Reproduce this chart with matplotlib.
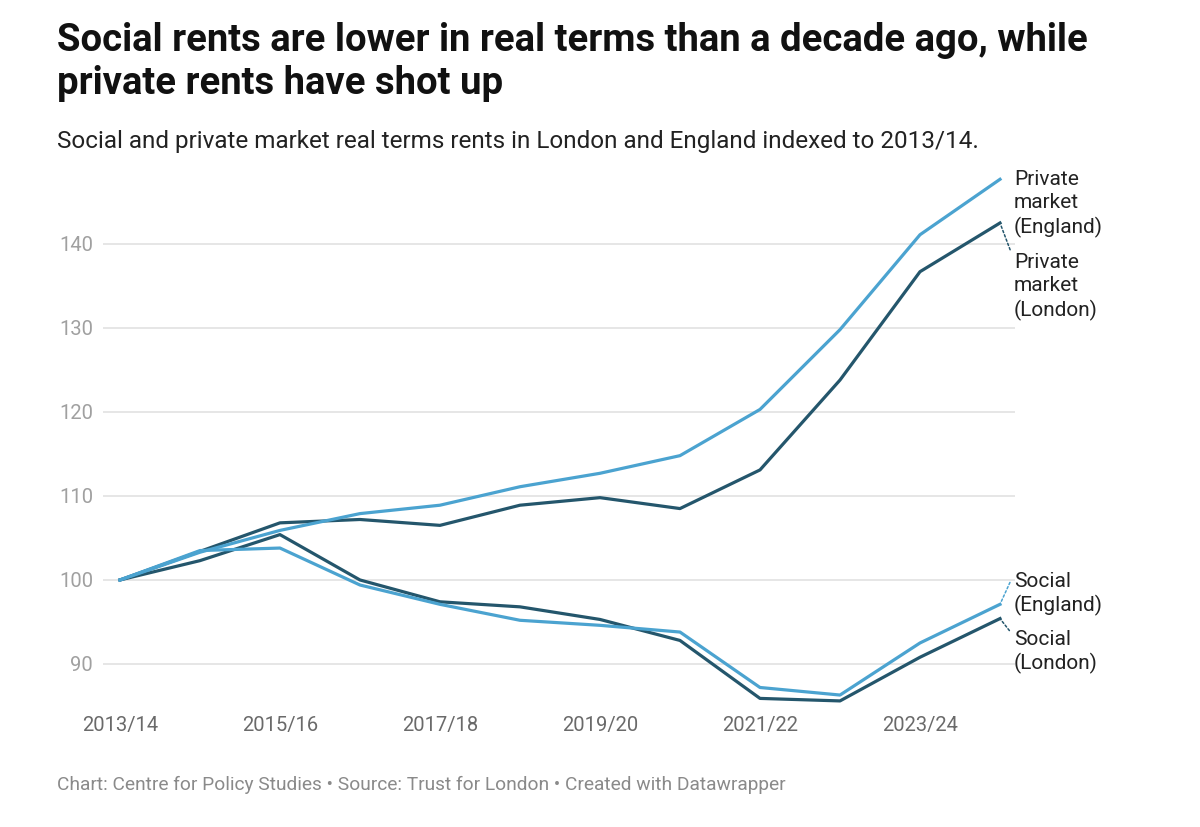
import matplotlib
matplotlib.use('Agg')
import matplotlib.pyplot as plt

years = ['2013/14', '2014/15', '2015/16', '2016/17', '2017/18', '2018/19',
         '2019/20', '2020/21', '2021/22', '2022/23', '2023/24', '2024/25']
private_england = [100, 103.3, 105.9, 107.9, 108.9, 111.1, 112.7, 114.8, 120.3, 129.8, 141.1, 147.7]
private_london = [100, 103.4, 106.8, 107.2, 106.5, 108.9, 109.8, 108.5, 113.1, 123.8, 136.7, 142.5]
social_england = [100, 103.5, 103.8, 99.4, 97.1, 95.2, 94.6, 93.8, 87.2, 86.3, 92.5, 97.1]
social_london = [100, 102.3, 105.4, 100.0, 97.4, 96.8, 95.3, 92.8, 85.9, 85.6, 90.8, 95.4]

light = '#4ba3d0'
dark = '#24566c'

plt.rcParams['font.family'] = ['Roboto', 'DejaVu Sans']

fig = plt.figure(figsize=(12, 8.27), dpi=100)
ax = fig.add_axes([0.0858, 0.1362, 0.7602, 0.6602])

x = list(range(len(years)))
series = [
    (private_london, dark, 'Private\nmarket\n(London)', -46, 0.9),
    (social_london, dark, 'Social\n(London)', -24, 0.85),
    (private_england, light, 'Private\nmarket\n(England)', -17.5, None),
    (social_england, light, 'Social\n(England)', 7.5, 0.95),
]
for vals, col, lab, dy, rel in series:
    ax.plot(x, vals, color=col, lw=2.3, solid_joinstyle='round', zorder=3)
    ap = None
    if rel is not None:
        ap = dict(arrowstyle='-', color=col, lw=1.1, linestyle=(0, (1.5, 1.5)),
                  relpos=(0, rel), shrinkA=2, shrinkB=1)
    ax.annotate(lab, xy=(x[-1], vals[-1]), xytext=(10, dy), textcoords='offset points',
                ha='left', va='center', fontsize=15, color='#222222', linespacing=1.28,
                arrowprops=ap, annotation_clip=False)

ax.set_xlim(-0.2125, 11.19)
ax.set_ylim(84, 149)
ax.set_yticks([90, 100, 110, 120, 130, 140])
ax.set_xticks(x[::2])
ax.set_xticklabels(years[::2])
ax.grid(axis='y', color='#e2e2e2', lw=1.2, zorder=0)
for s in ax.spines.values():
    s.set_visible(False)
ax.tick_params(axis='both', length=0, labelsize=14.5, labelcolor='#a0a0a0')
ax.tick_params(axis='y', pad=7)
ax.tick_params(axis='x', pad=1, labelcolor='#6a6a6a')

fig.text(0.0475, 1 - 22 / 827, 'Social rents are lower in real terms than a decade ago, while\nprivate rents have shot up',
         ha='left', va='top', fontsize=27.5, fontweight='bold', color='#111111', linespacing=1.2)
fig.text(0.0475, 1 - 148 / 827, 'Social and private market real terms rents in London and England indexed to 2013/14.',
         ha='left', va='baseline', fontsize=17.5, color='#222222')
fig.text(0.0475, 1 - 790 / 827, 'Chart: Centre for Policy Studies \u2022 Source: Trust for London \u2022 Created with Datawrapper',
         ha='left', va='baseline', fontsize=13.8, color='#8a8a8a')

fig.savefig('out.png', dpi=100)
